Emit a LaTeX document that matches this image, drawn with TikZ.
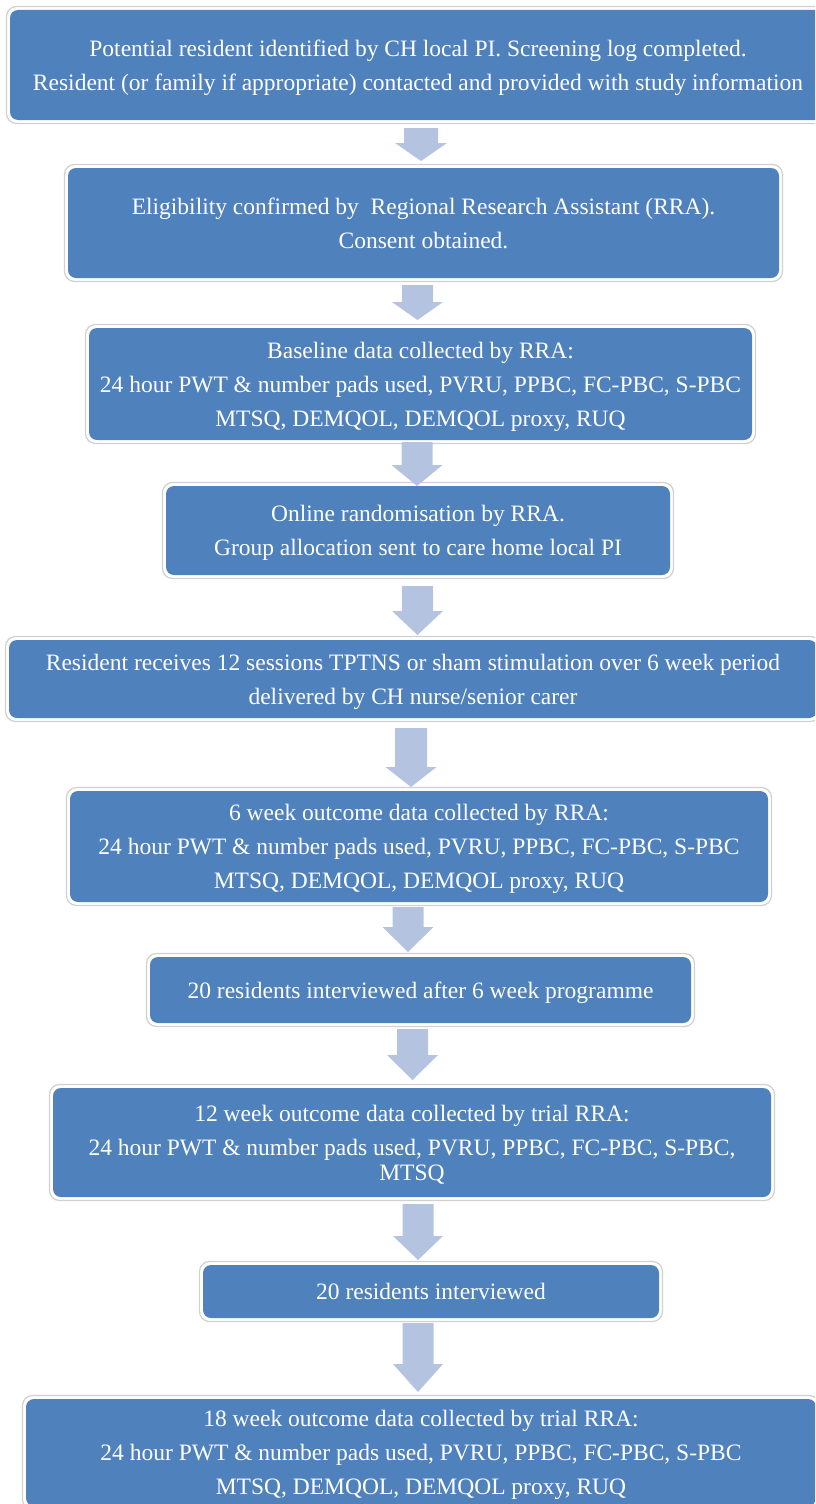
\documentclass[tikz,border=0pt]{standalone}
\usepackage{fontspec}
\setmainfont{Liberation Serif}
\definecolor{boxblue}{RGB}{79,129,189}
\definecolor{arrowblue}{RGB}{180,196,224}
\definecolor{bordergray}{RGB}{208,208,208}
\tikzset{
  bluebox/.style={fill=boxblue, rounded corners=8pt, text=white, align=center,
    inner sep=0pt, text depth=0pt, font=\fontsize{23.5}{34}\selectfont},
  outerbox/.style={draw=bordergray, line width=1.2pt, fill=white, rounded corners=10pt},
  blockarrow/.style={fill=arrowblue, draw=none}
}
% name, x1, y1, x2, y2, text
\newcommand\flowbox[6]{%
  \path[outerbox] ({#2-3.5},{#3-3.5}) rectangle ({#4+3.5},{#5+3.5});
  \node[bluebox, minimum width={#4-#2}, minimum height={#5-#3}] (#1) at ({(#2+#4)/2},{(#3+#5)/2}) {#6};
}
% cx, ytop, yhead, ytip, shaft half width, head half width
\newcommand\downarrowblock[6]{%
  \path[blockarrow] ({#1-#5},#2) -- ({#1+#5},#2) -- ({#1+#5},#3) -- ({#1+#6},#3)
    -- (#1,#4) -- ({#1-#6},#3) -- ({#1-#5},#3) -- cycle;
}
\begin{document}
\begin{tikzpicture}[x=1pt,y=-1pt]
\useasboundingbox (0,0) rectangle (815,1504);
\clip (0,0) rectangle (815,1504);

\flowbox{b1}{10}{10}{826}{120}{Potential resident identified by CH local PI. Screening log completed.\\Resident (or family if appropriate) contacted and provided with study information}
\flowbox{b2}{68}{168}{779}{278}{Eligibility confirmed by \ Regional Research Assistant (RRA).\\Consent obtained.}
\flowbox{b3}{89}{328}{752}{440}{Baseline data collected by RRA:\\24 hour PWT \& number pads used, PVRU, PPBC, FC-PBC, S-PBC\\MTSQ, DEMQOL, DEMQOL proxy, RUQ}
\flowbox{b4}{166}{486}{670}{575}{Online randomisation by RRA.\\Group allocation sent to care home local PI}
\flowbox{b5}{9}{640}{817}{718}{Resident receives 12 sessions TPTNS or sham stimulation over 6 week period\\delivered by CH nurse/senior carer}
\flowbox{b6}{70}{791}{768}{902}{6 week outcome data collected by RRA:\\24 hour PWT \& number pads used, PVRU, PPBC, FC-PBC, S-PBC\\MTSQ, DEMQOL, DEMQOL proxy, RUQ}
\flowbox{b7}{150}{957}{691}{1023}{20 residents interviewed after 6 week programme}
\flowbox{b8}{53}{1088}{771}{1197}{12 week outcome data collected by trial RRA:\\24 hour PWT \& number pads used, PVRU, PPBC, FC-PBC, S-PBC,\\[-9pt]MTSQ}
\flowbox{b9}{203}{1265}{659}{1318}{20 residents interviewed}
\flowbox{b10}{26}{1399}{816}{1506}{18 week outcome data collected by trial RRA:\\24 hour PWT \& number pads used, PVRU, PPBC, FC-PBC, S-PBC\\MTSQ, DEMQOL, DEMQOL proxy, RUQ}

\downarrowblock{421}{128}{143}{161}{17}{26}
\downarrowblock{417.5}{285}{302}{320}{15.5}{25.5}
\downarrowblock{417}{442}{465}{486}{15.5}{25.5}
\downarrowblock{417.5}{586}{611}{635}{15.5}{25.5}
\downarrowblock{411}{728}{767}{787}{16}{25.5}
\downarrowblock{408}{907}{927}{952}{15.5}{25.5}
\downarrowblock{412.5}{1029}{1055}{1080}{15.5}{25.5}
\downarrowblock{418}{1204}{1236}{1260}{15.5}{25}
\downarrowblock{418}{1323}{1364}{1392}{15.5}{25}
\end{tikzpicture}
\end{document}
